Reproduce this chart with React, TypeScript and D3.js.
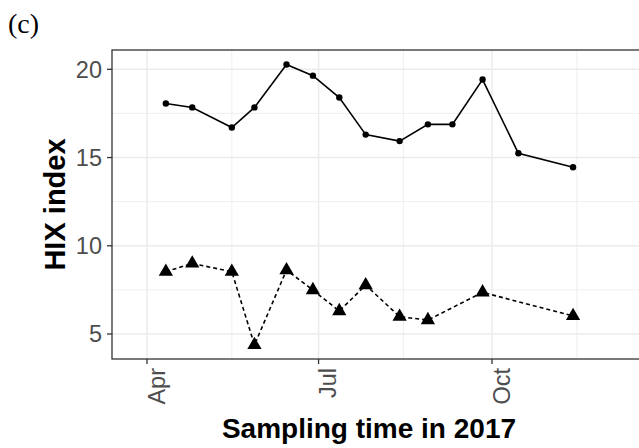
import React, { useEffect, useRef } from 'react';
import * as d3 from 'd3';

// HIX series (circles, solid line)
const hixDates = [
  '2017-04-11', '2017-04-25', '2017-05-16', '2017-05-28', '2017-06-14', '2017-06-28', '2017-07-12',
  '2017-07-26', '2017-08-13', '2017-08-28', '2017-09-10', '2017-09-26', '2017-10-15', '2017-11-13',
];
const hixValues = [18.06, 17.84, 16.7, 17.84, 20.27, 19.64, 18.4, 16.3, 15.93, 16.88, 16.88, 19.42, 15.24, 14.45];

// second series (triangles, dashed line)
const triDates = [
  '2017-04-11', '2017-04-25', '2017-05-16', '2017-05-28', '2017-06-14', '2017-06-28',
  '2017-07-12', '2017-07-26', '2017-08-13', '2017-08-28', '2017-09-26', '2017-11-13',
];
const triValues = [8.53, 9.0, 8.53, 4.38, 8.62, 7.49, 6.3, 7.77, 5.98, 5.79, 7.36, 6.02];

const xTicks = ['2017-04-01', '2017-07-01', '2017-10-01'];
const xMinorTicks = ['2017-05-16', '2017-08-15', '2017-11-15'];
const yTicks = [5, 10, 15, 20];
const yMinorTicks = [7.5, 12.5, 17.5];

interface Pt { date: Date; value: number }

const toPts = (dates: string[], values: number[]): Pt[] =>
  dates.map((d, i) => ({ date: new Date(d + 'T00:00:00'), value: values[i] }));

const W = 639;
const H = 448;
const panel = { left: 112, top: 50, right: 660, bottom: 359 };

const App: React.FC = () => {
  const svgRef = useRef<SVGSVGElement>(null);

  useEffect(() => {
    if (!svgRef.current) return;
    const svg = d3.select(svgRef.current);
    svg.selectAll('*').remove();

    const font = "'Liberation Sans', Arial, sans-serif";

    const x = d3.scaleTime()
      .domain([new Date('2017-04-01T00:00:00'), new Date('2017-10-01T00:00:00')])
      .range([147, 492]);
    const y = d3.scaleLinear().domain([5, 20]).range([334, 69.3]);

    svg.append('rect').attr('width', W).attr('height', H).attr('fill', '#fff');

    // panel label
    svg.append('text')
      .attr('x', 8).attr('y', 33)
      .attr('font-family', "'Liberation Serif', 'Times New Roman', serif")
      .attr('font-size', 28)
      .attr('fill', '#000')
      .text('(c)');

    // grid
    const grid = svg.append('g');
    yMinorTicks.forEach(v => grid.append('line')
      .attr('x1', panel.left).attr('x2', panel.right).attr('y1', y(v)).attr('y2', y(v))
      .attr('stroke', '#ebebeb').attr('stroke-width', 0.8));
    xMinorTicks.forEach(d => grid.append('line')
      .attr('x1', x(new Date(d + 'T00:00:00'))).attr('x2', x(new Date(d + 'T00:00:00')))
      .attr('y1', panel.top).attr('y2', panel.bottom)
      .attr('stroke', '#ebebeb').attr('stroke-width', 0.8));
    yTicks.forEach(v => grid.append('line')
      .attr('x1', panel.left).attr('x2', panel.right).attr('y1', y(v)).attr('y2', y(v))
      .attr('stroke', '#ebebeb').attr('stroke-width', 1.5));
    xTicks.forEach(d => grid.append('line')
      .attr('x1', x(new Date(d + 'T00:00:00'))).attr('x2', x(new Date(d + 'T00:00:00')))
      .attr('y1', panel.top).attr('y2', panel.bottom)
      .attr('stroke', '#ebebeb').attr('stroke-width', 1.5));

    const hix = toPts(hixDates, hixValues);
    const tri = toPts(triDates, triValues);

    const line = d3.line<Pt>()
      .x(d => x(d.date))
      .y(d => y(d.value));

    // solid line + dots
    svg.append('path')
      .datum(hix)
      .attr('fill', 'none')
      .attr('stroke', '#000')
      .attr('stroke-width', 1.6)
      .attr('d', line);
    svg.selectAll('circle.hix')
      .data(hix)
      .enter()
      .append('circle')
      .attr('class', 'hix')
      .attr('cx', d => x(d.date))
      .attr('cy', d => y(d.value))
      .attr('r', 3.2)
      .attr('fill', '#000');

    // dashed line + triangles
    svg.append('path')
      .datum(tri)
      .attr('fill', 'none')
      .attr('stroke', '#000')
      .attr('stroke-width', 1.6)
      .attr('stroke-dasharray', '4,3')
      .attr('d', line);
    const triangle = d3.symbol().type(d3.symbolTriangle).size(88);
    svg.selectAll('path.tri')
      .data(tri)
      .enter()
      .append('path')
      .attr('class', 'tri')
      .attr('transform', d => `translate(${x(d.date)},${y(d.value)})`)
      .attr('d', triangle)
      .attr('fill', '#000');

    // panel border
    svg.append('rect')
      .attr('x', panel.left).attr('y', panel.top)
      .attr('width', panel.right - panel.left).attr('height', panel.bottom - panel.top)
      .attr('fill', 'none')
      .attr('stroke', '#333333')
      .attr('stroke-width', 1.3);

    // y axis
    const yAxis = svg.append('g');
    yTicks.forEach(v => {
      yAxis.append('line')
        .attr('x1', panel.left - 5).attr('x2', panel.left).attr('y1', y(v)).attr('y2', y(v))
        .attr('stroke', '#333333').attr('stroke-width', 1.3);
      yAxis.append('text')
        .attr('x', panel.left - 10).attr('y', y(v))
        .attr('dy', '0.36em')
        .attr('text-anchor', 'end')
        .attr('font-family', font).attr('font-size', 23.5)
        .attr('fill', '#4d4d4d')
        .text(v);
    });

    // x axis
    const fmt = d3.timeFormat('%b');
    const xAxis = svg.append('g');
    xTicks.forEach(d => {
      const xp = x(new Date(d + 'T00:00:00'));
      xAxis.append('line')
        .attr('x1', xp).attr('x2', xp).attr('y1', panel.bottom).attr('y2', panel.bottom + 5)
        .attr('stroke', '#333333').attr('stroke-width', 1.3);
      xAxis.append('text')
        .attr('transform', `translate(${xp},${panel.bottom + 9}) rotate(-90)`)
        .attr('y', 17.5)
        .attr('text-anchor', 'end')
        .attr('font-family', font).attr('font-size', 23.5)
        .attr('fill', '#4d4d4d')
        .text(fmt(new Date(d + 'T00:00:00')));
    });

    // axis titles
    svg.append('text')
      .attr('x', 369).attr('y', 438)
      .attr('text-anchor', 'middle')
      .attr('font-family', font).attr('font-size', 28).attr('font-weight', 'bold')
      .attr('fill', '#000')
      .text('Sampling time in 2017');
    svg.append('text')
      .attr('transform', `translate(65,${(panel.top + panel.bottom) / 2}) rotate(-90)`)
      .attr('text-anchor', 'middle')
      .attr('font-family', font).attr('font-size', 29).attr('font-weight', 'bold')
      .attr('fill', '#000')
      .text('HIX index');
  }, []);

  return (
    <svg
      ref={svgRef}
      width={W}
      height={H}
      style={{ position: 'absolute', left: 0, top: 0, display: 'block' }}
    />
  );
};

export default App;
